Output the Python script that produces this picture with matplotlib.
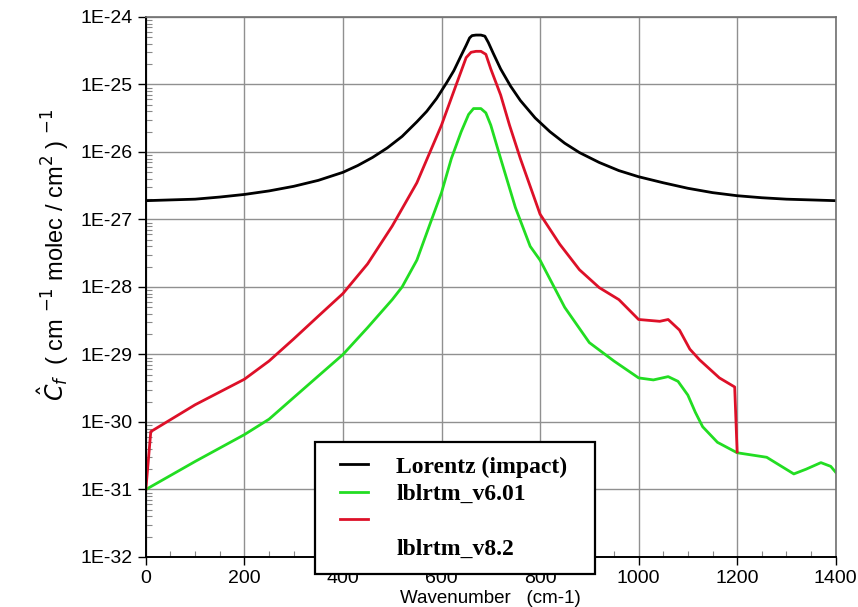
import matplotlib
matplotlib.use('Agg')
import matplotlib.pyplot as plt
import numpy as np
from matplotlib.lines import Line2D
from matplotlib.legend_handler import HandlerLine2D
from matplotlib.ticker import FuncFormatter, MultipleLocator, NullFormatter, FixedLocator

# Lorentz (impact)
wn_lor = [0, 50, 100, 150, 200, 250, 300, 350, 400, 430, 460, 490, 520, 550, 570, 590,
          610, 625, 640, 650, 657, 662, 670, 680, 688, 695, 705, 720, 740, 760, 790,
          820, 850, 880, 920, 960, 1000, 1050, 1100, 1150, 1200, 1250, 1300, 1350, 1400]
c_lor = [1.9e-27, 1.95e-27, 2.0e-27, 2.15e-27, 2.35e-27, 2.65e-27, 3.1e-27, 3.8e-27,
         5.0e-27, 6.3e-27, 8.3e-27, 1.15e-26, 1.7e-26, 2.8e-26, 4.0e-26, 6.2e-26,
         1.05e-25, 1.6e-25, 2.7e-25, 3.8e-25, 4.9e-25, 5.3e-25, 5.4e-25, 5.4e-25, 5.2e-25,
         4.2e-25, 2.9e-25, 1.7e-25, 9.5e-26, 5.8e-26, 3.2e-26,
         2.0e-26, 1.35e-26, 9.8e-27, 7e-27, 5.3e-27, 4.3e-27, 3.5e-27, 2.9e-27, 2.5e-27,
         2.25e-27, 2.1e-27, 2.0e-27, 1.95e-27, 1.9e-27]

# lblrtm_v6.01
wn_v6 = [0, 100, 200, 250, 300, 350, 400, 450, 500, 520, 550, 580, 600, 620, 640, 655,
         665, 680, 690, 700, 720, 750, 780, 800, 850, 900, 950, 1000, 1030, 1060, 1080,
         1100, 1115, 1130, 1160, 1200, 1260, 1290, 1315, 1340, 1370, 1390, 1400]
c_v6 = [1e-31, 2.6e-31, 6.5e-31, 1.1e-30, 2.3e-30, 4.8e-30, 1e-29, 2.5e-29, 6.5e-29,
        1e-28, 2.5e-28, 1e-27, 2.5e-27, 8e-27, 2e-26, 3.6e-26,
        4.4e-26, 4.4e-26, 3.8e-26, 2.5e-26, 8e-27, 1.5e-27, 4e-28, 2.5e-28, 5e-29,
        1.5e-29, 8e-30, 4.5e-30, 4.2e-30, 4.7e-30, 4e-30,
        2.5e-30, 1.4e-30, 8.5e-31, 5e-31, 3.5e-31, 3e-31, 2.2e-31, 1.7e-31, 2e-31,
        2.5e-31, 2.2e-31, 1.8e-31]

# lblrtm_v8.2
wn_v8 = [0, 10, 100, 200, 250, 300, 350, 400, 450, 500, 550, 600, 630, 650, 660, 670,
         680, 690, 700, 720, 738, 760, 800, 840, 880, 920, 960, 1000, 1043, 1060, 1083,
         1104, 1124, 1164, 1195, 1200]
c_v8 = [1e-31, 7.2e-31, 1.8e-30, 4.3e-30, 8e-30, 1.7e-29, 3.7e-29, 8e-29, 2.2e-28,
        8e-28, 3.5e-27, 2.5e-26, 1e-25, 2.5e-25, 3e-25, 3.1e-25,
        3.1e-25, 2.8e-25, 1.7e-25, 7e-26, 2.5e-26, 8e-27, 1.2e-27, 4.3e-28, 1.8e-28,
        9.8e-29, 6.5e-29, 3.3e-29, 3.1e-29, 3.3e-29, 2.3e-29,
        1.2e-29, 8.3e-30, 4.5e-30, 3.3e-30, 3.6e-31]

y_decades = list(range(-32, -23))

plt.rcParams['font.family'] = 'Liberation Sans'

fig = plt.figure(figsize=(8.58, 6.07), dpi=100)
ax = fig.add_axes([0.170, 0.0824, 0.804, 0.8896])

ax.plot(wn_lor, c_lor, color='black', lw=2.0, label='Lorentz (impact)')
ax.plot(wn_v6, c_v6, color='#22dd22', lw=2.0, label='lblrtm_v6.01')
ax.plot(wn_v8, c_v8, color='#dd1028', lw=2.0, label=' ')

ax.set_yscale('log')
ax.set_xlim(0, 1400)
ax.set_ylim(1e-32, 1e-24)
ax.set_xticks(np.arange(0, 1401, 200))
ax.xaxis.set_minor_locator(MultipleLocator(50))
ax.yaxis.set_major_locator(FixedLocator([10.0**k for k in y_decades]))
minors = [m * 10.0**k for k in y_decades[:-1] for m in range(2, 10)]
ax.yaxis.set_minor_locator(FixedLocator(minors))
ax.yaxis.set_minor_formatter(NullFormatter())
ax.yaxis.set_major_formatter(FuncFormatter(lambda v, p: '1E%d' % int(round(np.log10(v)))))

ax.grid(True, which='major', color='#909090', lw=1.0)
ax.tick_params(which='major', direction='out', length=6, width=1, labelsize=14, colors='black')
ax.tick_params(which='minor', direction='in', length=4, width=0.8, color='#888888')
for s in ['left', 'bottom']:
    ax.spines[s].set_color('black')
    ax.spines[s].set_linewidth(1.4)
for s in ['top', 'right']:
    ax.spines[s].set_color('#707070')
    ax.spines[s].set_linewidth(1.2)

ax.set_xlabel('Wavenumber   (cm-1)', fontsize=13.5, labelpad=2)
ax.set_ylabel(r'$\hat{C}_f$  ( cm $^{-1}$ molec / cm$^2$ ) $^{-1}$', fontsize=17)
ax.yaxis.set_label_coords(-0.108, 0.56)

h, l = ax.get_legend_handles_labels()
h.append(Line2D([], [], color='none'))
l.append('lblrtm_v8.2')
leg = ax.legend(h, l, loc='upper left',
                bbox_to_anchor=(315/858, 1 - 572/607, 280/858, 130/607),
                bbox_transform=fig.transFigure, mode='expand', frameon=True, fancybox=False,
                edgecolor='black', framealpha=1, handlelength=1.66, handletextpad=1.18,
                labelspacing=0.245, borderpad=0.6, borderaxespad=0,
                handler_map={Line2D: HandlerLine2D(xpad=0.46)},
                prop={'family': 'Liberation Serif', 'weight': 'bold', 'size': 17})
leg.get_frame().set_linewidth(1.6)

fig.savefig('out.png', dpi=100)
